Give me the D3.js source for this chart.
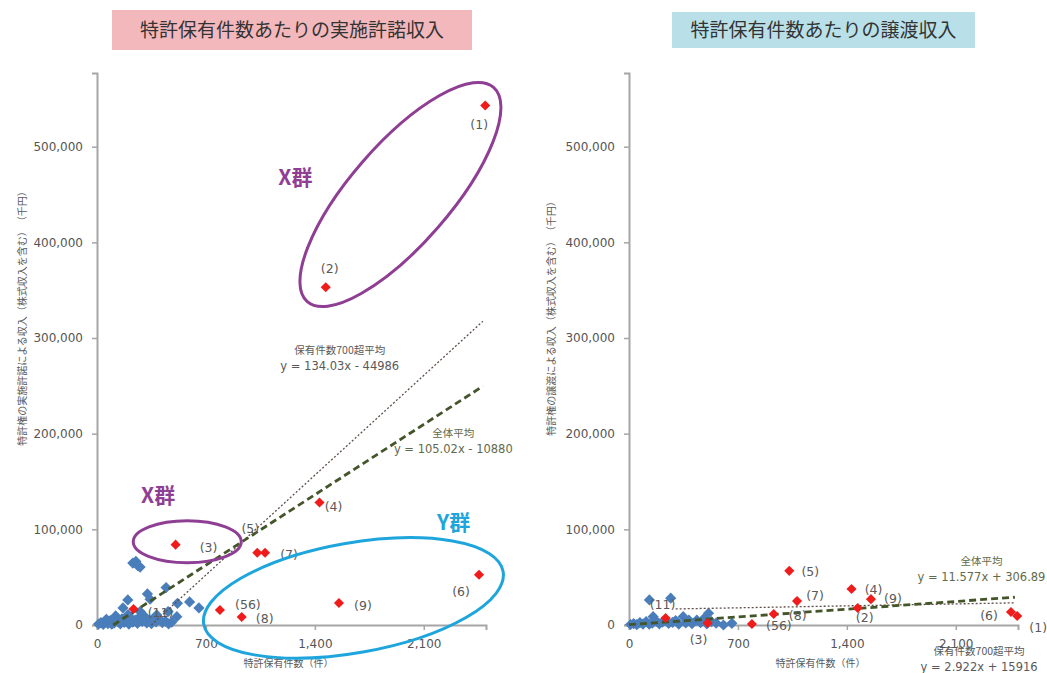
<!DOCTYPE html>
<html>
<head>
<meta charset="utf-8">
<script src="https://cdn.jsdelivr.net/npm/d3@7"></script>
<style>
  body { margin: 0; background: #fff; }
  svg { display: block; }
  .jp { font-family: "Noto Sans CJK JP", sans-serif; }
</style>
</head>
<body>
<svg id="chart" width="1047" height="673"></svg>
<script>
// ---- data ----
const xTicks = [0, 700, 1400, 2100];
const yTicks = [0, 100000, 200000, 300000, 400000, 500000];

// highlighted companies (red): patent count, license income, transfer income (千円)
const redIds = ["(1)", "(2)", "(3)", "(4)", "(5)", "(6)", "(7)", "(8)", "(9)", "(11)", "(56)"];
const redCount = [2495, 1470, 505, 1430, 1030, 2455, 1080, 930, 1555, 235, 790];
const redLicense = [543000, 353000, 84000, 128000, 75500, 52500, 75500, 8400, 23000, 16800, 15700];
const redTransfer = [9400, 17800, 2000, 37700, 56600, 13600, 25000, 11500, 27000, 7300, 1000];

// other companies (blue): [patent count, income]
const blueLicense = [
  [230, 64700], [250, 66500], [277, 60500], [262, 62000],
  [444, 39100], [324, 32500], [341, 26900], [198, 26200], [517, 22700], [595, 24100], [655, 17800],
  [457, 14000], [513, 8700], [384, 10500], [167, 17800], [277, 14000],
  [10, 1000], [25, 2500], [40, 500], [55, 3000], [70, 1500], [85, 4500], [95, 800], [110, 2000],
  [120, 5500], [135, 3500], [150, 1200], [160, 6500], [175, 2800], [190, 4200], [205, 1000],
  [215, 7500], [230, 3000], [245, 5000], [260, 1800], [275, 8500], [290, 3800], [305, 6000],
  [320, 2200], [335, 4800], [350, 1500], [365, 7000], [380, 3300], [400, 5800], [420, 2500],
  [440, 4000], [460, 1200], [480, 3000], [120, 9500], [200, 11000], [300, 10000], [60, 6000]
];
const blueTransfer = [
  [131, 26200], [268, 28000], [511, 12300], [607, 0], [661, 1800],
  [10, 500], [30, 1500], [50, 300], [70, 2500], [90, 1000], [110, 3500], [130, 800], [150, 2000],
  [155, 8700], [175, 4000], [195, 1200], [215, 3000], [235, 5500], [255, 1800], [280, 2800],
  [300, 4500], [320, 1000], [348, 8700], [365, 2200], [385, 5000], [405, 1500], [436, 5200],
  [460, 2500], [480, 6500], [500, 1200], [530, 3500], [560, 2000]
];

// trend lines as drawn: [[x0, y0], [x1, y1]]
const licenseAllLine = [[104, 0], [2480, 249600]];
const license700Line = [[349, 0], [2480, 317500]];
const transferAllLine = [[0, 307], [2480, 29020]];
const transfer700Line = [[300, 16800], [2480, 23160]];

// ---- layout ----
const svg = d3.select("#chart");
const xMax = 2500, yMax = 577000;
const C = {
  red: "#f01c1c", blue: "#4a7ebb", axis: "#a6a6a6", text: "#595959",
  green: "#44552a", dotted: "#5e4f48", purple: "#8f3f93", cyan: "#1ea5dc"
};
const numFont = "DejaVu Sans, Verdana, sans-serif";

const blueMark = d3.symbol().type(d3.symbolDiamond2).size(80);
const redMark = d3.symbol().type(d3.symbolDiamond2).size(65);

function panel(opt) {
  const x = d3.scaleLinear().domain([0, xMax]).range(opt.xr);
  const y = d3.scaleLinear().domain([0, yMax]).range([625, 73]);
  const g = svg.append("g");

  // title box
  g.append("rect").attr("x", opt.title.x).attr("y", opt.title.y)
    .attr("width", opt.title.w).attr("height", opt.title.h).attr("fill", opt.title.fill);
  g.append("text").attr("class", "jp")
    .attr("x", opt.title.x + opt.title.w / 2).attr("y", opt.title.y + opt.title.h / 2 + 7)
    .attr("text-anchor", "middle").attr("font-size", 19).attr("fill", "#333")
    .text(opt.title.text);

  // axes
  const ya = g.append("g").attr("transform", `translate(${opt.xr[0]},0)`)
    .call(d3.axisLeft(y).tickValues(yTicks).tickSize(5).tickPadding(9).tickFormat(d3.format(",")));
  const xa = g.append("g").attr("transform", "translate(0,625)")
    .call(d3.axisBottom(x).tickValues(xTicks).tickSize(5).tickPadding(9).tickFormat(d3.format(",")));
  [ya, xa].forEach(a => {
    a.attr("font-family", numFont).attr("font-size", 12);
    a.selectAll(".tick text").attr("fill", "#555");
    a.select(".domain").attr("stroke", C.axis).attr("stroke-width", 2);
    a.selectAll(".tick line").attr("stroke", C.axis).attr("stroke-width", 1.5);
  });

  g.append("text").attr("class", "jp")
    .attr("transform", `translate(${opt.yTitleX},316) rotate(-90)`)
    .attr("text-anchor", "middle").attr("font-size", 10).attr("fill", C.text)
    .text(opt.yTitle);
  g.append("text").attr("class", "jp")
    .attr("x", (opt.xr[0] + opt.xr[1]) / 2 - 3).attr("y", 667)
    .attr("text-anchor", "middle").attr("font-size", 10).attr("fill", C.text)
    .text("特許保有件数（件）");

  // blue points
  g.selectAll(".blue").data(opt.blue).enter().append("path")
    .attr("d", blueMark).attr("fill", C.blue)
    .attr("transform", d => `translate(${x(d[0])},${y(d[1])})`);

  // trend lines
  const line = d3.line().x(d => x(d[0])).y(d => y(d[1]));
  g.append("path").attr("d", line(opt.line700)).attr("fill", "none")
    .attr("stroke", C.dotted).attr("stroke-width", 1.3).attr("stroke-dasharray", "2,2");
  g.append("path").attr("d", line(opt.lineAll)).attr("fill", "none")
    .attr("stroke", C.green).attr("stroke-width", 2.8).attr("stroke-dasharray", "7,4");

  // red points + labels
  redIds.forEach((id, i) => {
    const px = x(redCount[i]), py = y(opt.red[i]);
    g.append("path").attr("d", redMark).attr("fill", C.red)
      .attr("transform", `translate(${px},${py})`);
    const o = opt.labelOff[id];
    g.append("text").attr("x", px + o[0]).attr("y", py + o[1] + 4)
      .attr("text-anchor", "middle")
      .attr("font-family", numFont).attr("font-size", 12.5)
      .attr("fill", C.text).text(id);
  });

  // trend line captions
  opt.captions.forEach(c => {
    g.append("text").attr("class", "jp")
      .attr("x", x(c.at[0])).attr("y", y(c.at[1]))
      .attr("text-anchor", "middle").attr("font-size", 10.5).attr("fill", c.color)
      .text(c.t1);
    g.append("text")
      .attr("x", x(c.at[0])).attr("y", y(c.at[1]) + 16)
      .attr("text-anchor", "middle")
      .attr("font-family", numFont).attr("font-size", 11.5).attr("fill", c.color)
      .text(c.t2);
  });

  return { g, x, y };
}

const left = panel({
  xr: [97, 486],
  title: { x: 112, y: 10, w: 360, h: 40, fill: "#f3b8bc", text: "特許保有件数あたりの実施許諾収入" },
  yTitle: "特許権の実施許諾による収入（株式収入を含む）　（千円）",
  yTitleX: 26,
  blue: blueLicense,
  red: redLicense,
  lineAll: licenseAllLine,
  line700: license700Line,
  labelOff: {
    "(1)": [-6, 19], "(2)": [4, -18], "(3)": [33, 3], "(4)": [14, 4], "(5)": [-7, -24],
    "(6)": [-18, 17], "(7)": [24, 2], "(8)": [23, 2], "(9)": [24, 3], "(11)": [27, 4], "(56)": [28, -5]
  },
  captions: [
    { at: [1560, 283000], t1: "保有件数700超平均", t2: "y = 134.03x - 44986", color: C.text },
    { at: [2290, 197000], t1: "全体平均", t2: "y = 105.02x - 10880", color: "#626a4c" }
  ]
});

const right = panel({
  xr: [629, 1018],
  title: { x: 672, y: 12, w: 303, h: 36, fill: "#b9e0e8", text: "特許保有件数あたりの譲渡収入" },
  yTitle: "特許権の譲渡による収入（株式収入を含む）　（千円）",
  yTitleX: 555,
  blue: blueTransfer,
  red: redTransfer,
  lineAll: transferAllLine,
  line700: transfer700Line,
  labelOff: {
    "(1)": [21, 12], "(2)": [7, 10], "(3)": [-9, 17], "(4)": [22, 1], "(5)": [21, 1],
    "(6)": [-22, 4], "(7)": [18, -5], "(8)": [24, 2], "(9)": [22, 0], "(11)": [-3, -13], "(56)": [27, 2]
  },
  captions: [
    { at: [2265, 62500], t1: "全体平均", t2: "y = 11.577x + 306.89", color: "#626a4c" },
    { at: [2250, -31500], t1: "保有件数700超平均", t2: "y = 2.922x + 15916", color: C.text }
  ]
});

// group annotations (ellipses anchored in data space, sized in pixels)
function ellipse(p, cx, cy, rx, ry, rot, color) {
  p.g.append("ellipse")
    .attr("transform", `translate(${p.x(cx)},${p.y(cy)}) rotate(${rot})`)
    .attr("rx", rx).attr("ry", ry)
    .attr("fill", "none").attr("stroke", color).attr("stroke-width", 3);
}
function groupLabel(p, gx, gy, t, color) {
  p.g.append("text").attr("class", "jp")
    .attr("x", p.x(gx)).attr("y", p.y(gy))
    .attr("text-anchor", "middle").attr("font-size", 21).attr("font-weight", 700)
    .attr("fill", color).text(t);
}
ellipse(left, 1950, 450000, 142, 50, -49, C.purple);
ellipse(left, 580, 87000, 54, 21, 0, C.purple);
ellipse(left, 1648, 28300, 152, 55, -10, C.cyan);
groupLabel(left, 1275, 460000, "X群", C.purple);
groupLabel(left, 393, 128000, "X群", C.purple);
groupLabel(left, 2292, 99000, "Y群", C.cyan);
</script>
</body>
</html>
